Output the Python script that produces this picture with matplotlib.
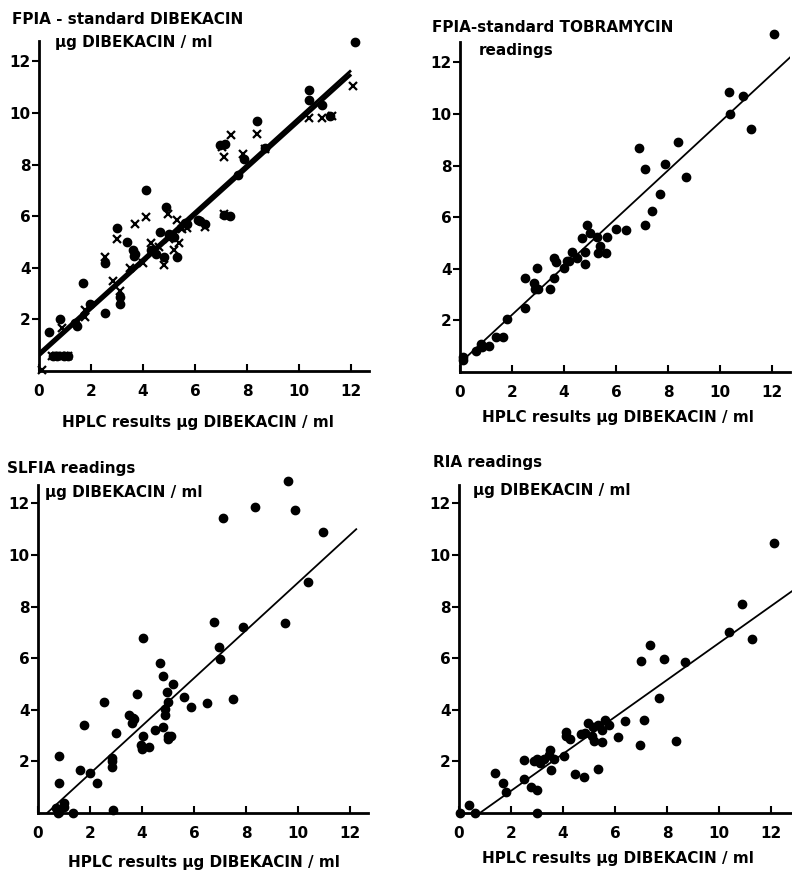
import numpy as np
import matplotlib
matplotlib.use('Agg')
import matplotlib.pyplot as plt

plt.rcParams['font.family'] = ['DejaVu Sans']
plt.rcParams['font.weight'] = 'bold'

W, H = 792, 873

# %% data (x = HPLC result, y = assay reading)
# panel 1: FPIA standard DIBEKACIN, dots and crosses
fd_x = [12.15, 10.4, 10.4, 10.9, 11.2, 8.4, 6.96, 7.15, 7.9, 8.7, 7.65, 4.1, 4.9, 5.6, 5.7, 6.1, 6.2, 6.4, 7.1, 7.35,
        3.0, 3.4, 3.6, 3.7, 3.65, 4.3, 4.5, 4.65, 4.8, 5.0, 5.2, 5.3, 2.55, 1.7, 3.1, 3.1, 2.55, 1.95, 1.45, 1.4,
        0.8, 0.4, 0.55, 0.7, 0.95, 1.1]
fd_y = [12.75, 10.9, 10.5, 10.3, 9.9, 9.7, 8.75, 8.8, 8.2, 8.65, 7.6, 7.0, 6.35, 5.75, 5.7, 5.85, 5.8, 5.7, 6.05, 6.0,
        5.55, 5.0, 4.7, 4.55, 4.45, 4.7, 4.55, 5.4, 4.4, 5.3, 5.2, 4.4, 4.2, 3.4, 2.85, 2.6, 2.25, 2.6, 1.75, 1.85,
        2.0, 1.5, 0.6, 0.6, 0.6, 0.6]
fx_x = [12.08, 10.4, 10.9, 11.25, 8.4, 7.4, 7.1, 7.85, 8.7, 7.05, 4.97, 3.7, 4.1, 5.3, 5.7, 6.4, 7.1, 3.0, 3.5, 4.0,
        4.3, 4.8, 5.4, 5.2, 5.5, 2.55, 2.85, 3.1, 1.77, 1.77, 0.88, 0.5, 0.65, 0.8, 0.95, 1.1, 0.1, 5.0, 4.6]
fx_y = [11.05, 9.8, 9.8, 9.9, 9.2, 9.15, 8.3, 8.4, 8.6, 8.7, 6.1, 5.7, 5.97, 5.85, 5.55, 5.6, 6.1, 5.1, 4.0, 4.2,
        4.95, 4.1, 4.95, 4.7, 5.5, 4.4, 3.5, 3.1, 2.35, 2.1, 1.65, 0.6, 0.6, 0.6, 0.6, 0.6, 0.05, 5.1, 4.8]
f_fit_x = [0.0, 12.0]
f_fit_y1 = [0.6, 11.5]
f_fit_y2 = [0.7, 11.65]

# panel 2: FPIA standard TOBRAMYCIN
t_x = [12.08, 10.35, 10.9, 10.4, 11.2, 6.9, 7.1, 7.9, 8.4, 8.7, 7.7, 7.4, 7.1, 6.0, 6.4, 4.9, 5.0, 4.7, 5.25, 5.65,
       5.4, 5.6, 5.3, 4.8, 4.8, 4.3, 4.5, 4.2, 4.0, 4.1, 3.6, 3.7, 3.6, 3.45, 2.95, 2.85, 3.0, 2.9, 2.5, 2.5,
       1.8, 1.4, 1.65, 1.1, 0.8, 0.85, 0.6, 0.1, 0.1]
t_y = [13.1, 10.85, 10.7, 10.0, 9.4, 8.7, 7.85, 8.05, 8.9, 7.55, 6.9, 6.25, 5.7, 5.55, 5.5, 5.7, 5.4, 5.2, 5.25, 5.25,
       4.9, 4.6, 4.6, 4.65, 4.2, 4.65, 4.4, 4.3, 4.05, 4.3, 4.4, 4.25, 3.65, 3.2, 4.05, 3.45, 3.2, 3.2, 3.65, 2.5,
       2.05, 1.35, 1.35, 1.0, 1.1, 0.95, 0.8, 0.6, 0.45]
t_fit_x = [0.0, 12.7]
t_fit_y = [0.35, 12.2]

# panel 3: SLFIA
s_x = [9.6, 8.35, 9.9, 7.1, 10.97, 10.4, 6.77, 7.9, 9.5, 4.05, 6.95, 7.0, 4.7, 4.8, 5.2, 4.97, 5.6, 5.0, 5.9, 6.5,
       7.5, 3.8, 2.55, 4.9, 4.9, 3.5, 3.6, 3.65, 3.7, 1.75, 3.0, 4.05, 4.5, 4.8, 5.0, 5.1, 5.0, 3.95, 4.0, 4.25,
       2.85, 2.85, 2.85, 0.8, 1.6, 2.0, 2.25, 0.8, 1.0, 1.0, 0.7, 0.8, 0.75, 1.35, 2.9]
s_y = [12.85, 11.85, 11.75, 11.45, 10.9, 8.95, 7.4, 7.2, 7.35, 6.8, 6.45, 5.95, 5.8, 5.3, 5.0, 4.7, 4.5, 4.3, 4.1, 4.25,
       4.4, 4.6, 4.3, 4.05, 3.8, 3.8, 3.5, 3.7, 3.65, 3.4, 3.1, 3.0, 3.2, 3.35, 3.0, 3.0, 2.85, 2.65, 2.5, 2.55,
       2.15, 2.0, 1.8, 2.2, 1.65, 1.55, 1.15, 1.15, 0.4, 0.25, 0.2, 0.05, 0.0, 0.0, 0.1]
s_fit_x = [0.35, 12.24]
s_fit_y = [0.0, 11.0]

# panel 4: RIA
r_x = [12.1, 10.9, 10.4, 11.25, 7.35, 7.0, 7.9, 8.7, 7.7, 6.4, 7.1, 6.1, 6.95, 8.35, 4.98, 5.17, 5.35, 5.6, 5.75, 5.5,
       5.1, 4.83, 5.2, 5.5, 4.7, 4.1, 4.25, 4.1, 4.05, 3.5, 3.45, 3.55, 3.65, 3.25, 3.0, 3.1, 2.9, 2.5, 2.5, 2.75,
       3.0, 4.45, 4.8, 5.35, 1.37, 1.7, 1.8, 0.05, 0.4, 0.6, 3.0]
r_y = [10.45, 8.1, 7.0, 6.75, 6.5, 5.9, 5.95, 5.85, 4.45, 3.55, 3.6, 2.95, 2.65, 2.8, 3.5, 3.35, 3.4, 3.6, 3.4, 3.2,
       3.0, 3.1, 2.8, 2.75, 3.05, 3.0, 2.85, 3.15, 2.2, 2.45, 2.25, 1.65, 2.1, 2.1, 2.1, 1.95, 2.0, 2.05, 1.3, 1.0,
       0.9, 1.5, 1.4, 1.7, 1.55, 1.15, 0.8, 0.0, 0.3, 0.0, 0.0]
r_fit_x = [0.8, 12.95]
r_fit_y = [0.0, 8.7]

ticks = [0, 2, 4, 6, 8, 10, 12]
xlab = 'HPLC results \u03bcg DIBEKACIN / ml'


# %% helpers
def make_axes(fig, left, bottom, xmax, ymax):
    # left/bottom in pixels (origin top-left), 26 px per unit
    ax = fig.add_axes([left / W, 1 - bottom / H, xmax * 26.0 / W, ymax * 25.8 / H])
    ax.set_xlim(0, xmax)
    ax.set_ylim(0, ymax)
    for s in ['top', 'right']:
        ax.spines[s].set_visible(False)
    for s in ['left', 'bottom']:
        ax.spines[s].set_linewidth(2.0)
    ax.set_xticks(ticks)
    ax.set_yticks(ticks[1:])
    ax.tick_params(axis='x', direction='in', length=5, width=1.5, pad=9, labelsize=11)
    ax.tick_params(axis='y', direction='out', length=5, width=1.5, pad=1, labelsize=11)
    for lab in ax.get_xticklabels() + ax.get_yticklabels():
        lab.set_fontweight('bold')
    ax.patch.set_alpha(0)
    return ax


def ftext(fig, x, y, s, size=11):
    fig.text(x / W, 1 - y / H, s, fontsize=size, fontweight='bold', va='center', ha='left')


dot = dict(ls='none', marker='o', ms=6, color='black', clip_on=False)
cross = dict(ls='none', marker='x', ms=5.5, mew=1.6, color='black', clip_on=False)

fig = plt.figure(figsize=(W / 100, H / 100), dpi=100)

# panel 1
ax1 = make_axes(fig, 39, 371, 12.7, 12.8)
ax1.plot(f_fit_x, f_fit_y1, color='black', lw=2.6, solid_capstyle='butt')
ax1.plot(f_fit_x, f_fit_y2, color='black', lw=2.0, solid_capstyle='butt')
ax1.plot(fd_x, fd_y, **dot)
ax1.plot(fx_x, fx_y, **cross)
ftext(fig, 12, 20, 'FPIA - standard DIBEKACIN')
ftext(fig, 55, 43, '\u03bcg DIBEKACIN / ml')
ftext(fig, 62, 422, xlab)

# panel 2
ax2 = make_axes(fig, 460, 372, 12.7, 12.8)
ax2.plot(t_fit_x, t_fit_y, color='black', lw=1.3)
ax2.plot(t_x, t_y, **dot)
ftext(fig, 432, 28, 'FPIA-standard TOBRAMYCIN')
ftext(fig, 479, 50, 'readings')
ftext(fig, 482, 417, xlab)

# panel 3
ax3 = make_axes(fig, 38, 813, 12.7, 12.7)
ax3.plot(s_fit_x, s_fit_y, color='black', lw=1.3)
ax3.plot(s_x, s_y, **dot)
ftext(fig, 7, 469, 'SLFIA readings')
ftext(fig, 45, 492, '\u03bcg DIBEKACIN / ml')
ftext(fig, 68, 863, xlab)

# panel 4
ax4 = make_axes(fig, 459, 813, 12.9, 12.7)
ax4.plot(r_fit_x, r_fit_y, color='black', lw=1.3, clip_on=False)
ax4.plot(r_x, r_y, **dot)
ftext(fig, 433, 463, 'RIA readings')
ftext(fig, 473, 490, '\u03bcg DIBEKACIN / ml')
ftext(fig, 482, 858, xlab)

plt.savefig('out.png', dpi=100)
plt.close()
